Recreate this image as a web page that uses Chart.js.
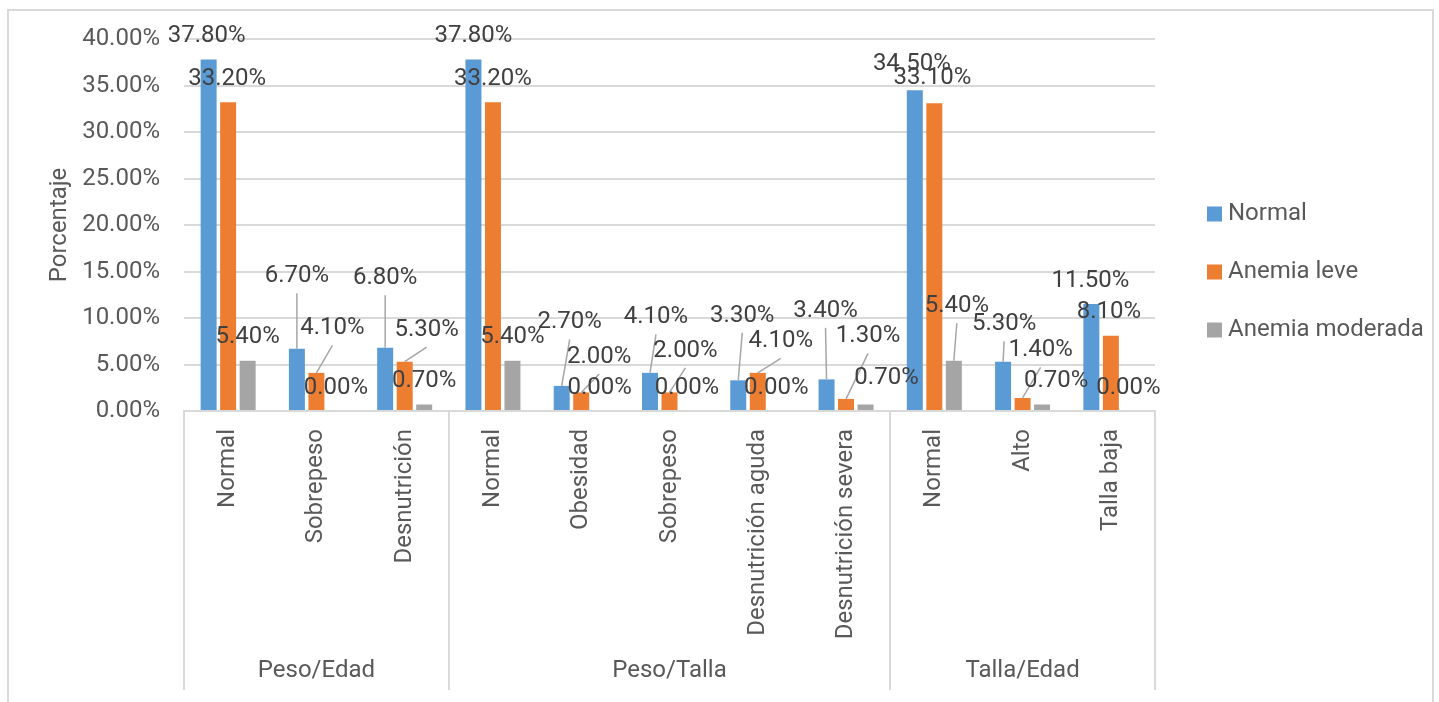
<!DOCTYPE html>
<html>
<head>
<meta charset="utf-8">
<title>Estado nutricional y anemia</title>
<script src="https://cdn.jsdelivr.net/npm/chart.js@4.4.1/dist/chart.umd.min.js"></script>
<style>
  html, body { margin: 0; padding: 0; background: #ffffff; }
  #wrap { width: 1439px; height: 702px; }
</style>
</head>
<body>
<div id="wrap"><canvas id="chart" width="1439" height="702"></canvas></div>
<script>
// ---- data ----
const categories = ['Normal', 'Sobrepeso', 'Desnutrición', 'Normal', 'Obesidad', 'Sobrepeso',
  'Desnutrición aguda', 'Desnutrición severa', 'Normal', 'Alto', 'Talla baja'];
const groupNames = ['Peso/Edad', 'Peso/Talla', 'Talla/Edad'];
const groupSizes = [3, 5, 3];
const seriesNames = ['Normal', 'Anemia leve', 'Anemia moderada'];
const normalValues = [37.8, 6.7, 6.8, 37.8, 2.7, 4.1, 3.3, 3.4, 34.5, 5.3, 11.5];
const anemiaLeveValues = [33.2, 4.1, 5.3, 33.2, 2.0, 2.0, 4.1, 1.3, 33.1, 1.4, 8.1];
const anemiaModeradaValues = [5.4, 0.0, 0.7, 5.4, 0.0, 0.0, 0.0, 0.7, 5.4, 0.7, 0.0];
const yTickValues = [0, 5, 10, 15, 20, 25, 30, 35, 40];

// ---- value-label placement: [dx, dy, leader line] relative to the spot above each bar ----
const labelShiftNormal = [[-2, 0, 0], [0, -49, 1], [0, -46, 1], [0, 0, 0], [8, -40, 1], [6, -32, 1],
  [4, -41, 1], [-1, -45, 1], [-3, -3, 0], [1, -14, 1], [-1, 0, 0]];
const labelShiftLeve = [[-1, 0, 0], [16, -21, 1], [22, -8, 1], [0, 0, 0], [18, -12, 1], [16, -18, 1],
  [23, -8, 1], [22, -39, 1], [-2, -2, 0], [18, -24, 1], [-2, 0, 0]];
const labelShiftModerada = [[0, 0, 0], [0, 0, 0], [0, 0, 0], [0, 0, 0], [-1, 0, 0], [-2, 0, 0],
  [-1, 0, 0], [21, -3, 0], [3, -31, 1], [14, 0, 0], [-2, 0, 0]];

const COLORS = ['#5b9bd5', '#ed7d31', '#a5a5a5'];
const AXIS_TEXT = '#595959';
const LABEL_TEXT = '#404040';
const LINE_GRAY = '#d9d9d9';
const FONT = 'Roboto';
const FONT_SIZE = 24;

Chart.defaults.font.family = FONT;
Chart.defaults.font.size = FONT_SIZE;
Chart.defaults.color = AXIS_TEXT;

const fmtPct = v => Number(v).toFixed(2) + '%';

// white page, outer frame
const framePlugin = {
  id: 'frame',
  beforeDraw(chart) {
    const ctx = chart.ctx;
    ctx.save();
    ctx.fillStyle = '#ffffff';
    ctx.fillRect(0, 0, chart.width, chart.height);
    ctx.strokeStyle = LINE_GRAY;
    ctx.lineWidth = 2;
    ctx.strokeRect(8, 10, 1425, 720);
    ctx.restore();
  }
};

// second category level: separators and group names
const groupAxisPlugin = {
  id: 'groupAxis',
  afterDraw(chart) {
    const ctx = chart.ctx;
    const xs = chart.scales.x;
    const area = chart.chartArea;
    const half = (xs.getPixelForValue(1) - xs.getPixelForValue(0)) / 2;
    ctx.save();
    ctx.strokeStyle = LINE_GRAY;
    ctx.lineWidth = 2;
    let start = 0;
    const edges = [area.left];
    groupSizes.forEach(n => {
      start += n;
      edges.push(xs.getPixelForValue(start - 1) + half);
    });
    edges.forEach(x => {
      ctx.beginPath();
      ctx.moveTo(Math.round(x), area.bottom);
      ctx.lineTo(Math.round(x), 690);
      ctx.stroke();
    });
    ctx.fillStyle = AXIS_TEXT;
    ctx.font = FONT_SIZE + 'px ' + FONT;
    ctx.textAlign = 'center';
    ctx.textBaseline = 'middle';
    groupNames.forEach((g, i) => {
      ctx.fillText(g, (edges[i] + edges[i + 1]) / 2, 671);
    });
    ctx.restore();
  }
};

// value labels with leader lines
const valueLabelPlugin = {
  id: 'valueLabels',
  afterDatasetsDraw(chart) {
    const ctx = chart.ctx;
    ctx.save();
    ctx.font = FONT_SIZE + 'px ' + FONT;
    ctx.textAlign = 'center';
    ctx.textBaseline = 'middle';
    chart.data.datasets.forEach((ds, di) => {
      const meta = chart.getDatasetMeta(di);
      meta.data.forEach((bar, i) => {
        const [dx, dy, leader] = ds.labelShift[i];
        const lx = bar.x + dx;
        const ly = bar.y - 23.5 + dy;
        if (leader) {
          ctx.strokeStyle = '#a6a6a6';
          ctx.lineWidth = 1.5;
          ctx.beginPath();
          ctx.moveTo(lx, ly + 17);
          ctx.lineTo(bar.x, bar.y);
          ctx.stroke();
        }
        ctx.fillStyle = LABEL_TEXT;
        ctx.fillText(fmtPct(ds.data[i]), lx, ly);
      });
    });
    ctx.restore();
  }
};

// legend at the right
const sideLegendPlugin = {
  id: 'sideLegend',
  afterDraw(chart) {
    const ctx = chart.ctx;
    ctx.save();
    ctx.font = FONT_SIZE + 'px ' + FONT;
    ctx.textAlign = 'left';
    ctx.textBaseline = 'middle';
    chart.data.datasets.forEach((ds, i) => {
      const cy = 214 + i * 58;
      ctx.fillStyle = ds.backgroundColor;
      ctx.fillRect(1207, cy - 7.5, 15, 15);
      ctx.fillStyle = AXIS_TEXT;
      ctx.fillText(ds.label, 1228, cy);
    });
    ctx.restore();
  }
};

const seriesValues = [normalValues, anemiaLeveValues, anemiaModeradaValues];
const seriesShifts = [labelShiftNormal, labelShiftLeve, labelShiftModerada];

new Chart(document.getElementById('chart'), {
  type: 'bar',
  data: {
    labels: categories,
    datasets: seriesNames.map((name, i) => ({
      label: name,
      data: seriesValues[i],
      labelShift: seriesShifts[i],
      backgroundColor: COLORS[i],
      borderWidth: 0,
      categoryPercentage: 0.663,
      barPercentage: 0.82
    }))
  },
  options: {
    responsive: false,
    animation: false,
    devicePixelRatio: 1,
    layout: { padding: { top: 39, left: 0, right: 284, bottom: 0 } },
    plugins: {
      legend: { display: false },
      tooltip: { enabled: false }
    },
    scales: {
      x: {
        grid: { display: false, drawTicks: false },
        border: { display: true, color: LINE_GRAY, width: 2 },
        ticks: {
          autoSkip: false,
          minRotation: 90,
          maxRotation: 90,
          padding: 18,
          color: AXIS_TEXT,
          font: { size: FONT_SIZE }
        },
        afterFit(scale) {
          scale.height = 291;
          scale.paddingLeft = 0;
          scale.paddingRight = 0;
        }
      },
      y: {
        min: 0,
        max: 40,
        afterBuildTicks(scale) {
          scale.ticks = yTickValues.map(v => ({ value: v }));
        },
        grid: { color: LINE_GRAY, lineWidth: 2, drawTicks: false },
        border: { display: false },
        ticks: {
          padding: 24,
          color: AXIS_TEXT,
          font: { size: FONT_SIZE },
          callback: v => fmtPct(v)
        },
        title: {
          display: true,
          text: 'Porcentaje',
          color: AXIS_TEXT,
          font: { size: FONT_SIZE },
          padding: { top: 46, bottom: 0 }
        },
        afterFit(scale) {
          scale.width = 184;
          scale.paddingTop = 0;
          scale.paddingBottom = 0;
        }
      }
    }
  },
  plugins: [framePlugin, valueLabelPlugin, groupAxisPlugin, sideLegendPlugin]
});
</script>
</body>
</html>
